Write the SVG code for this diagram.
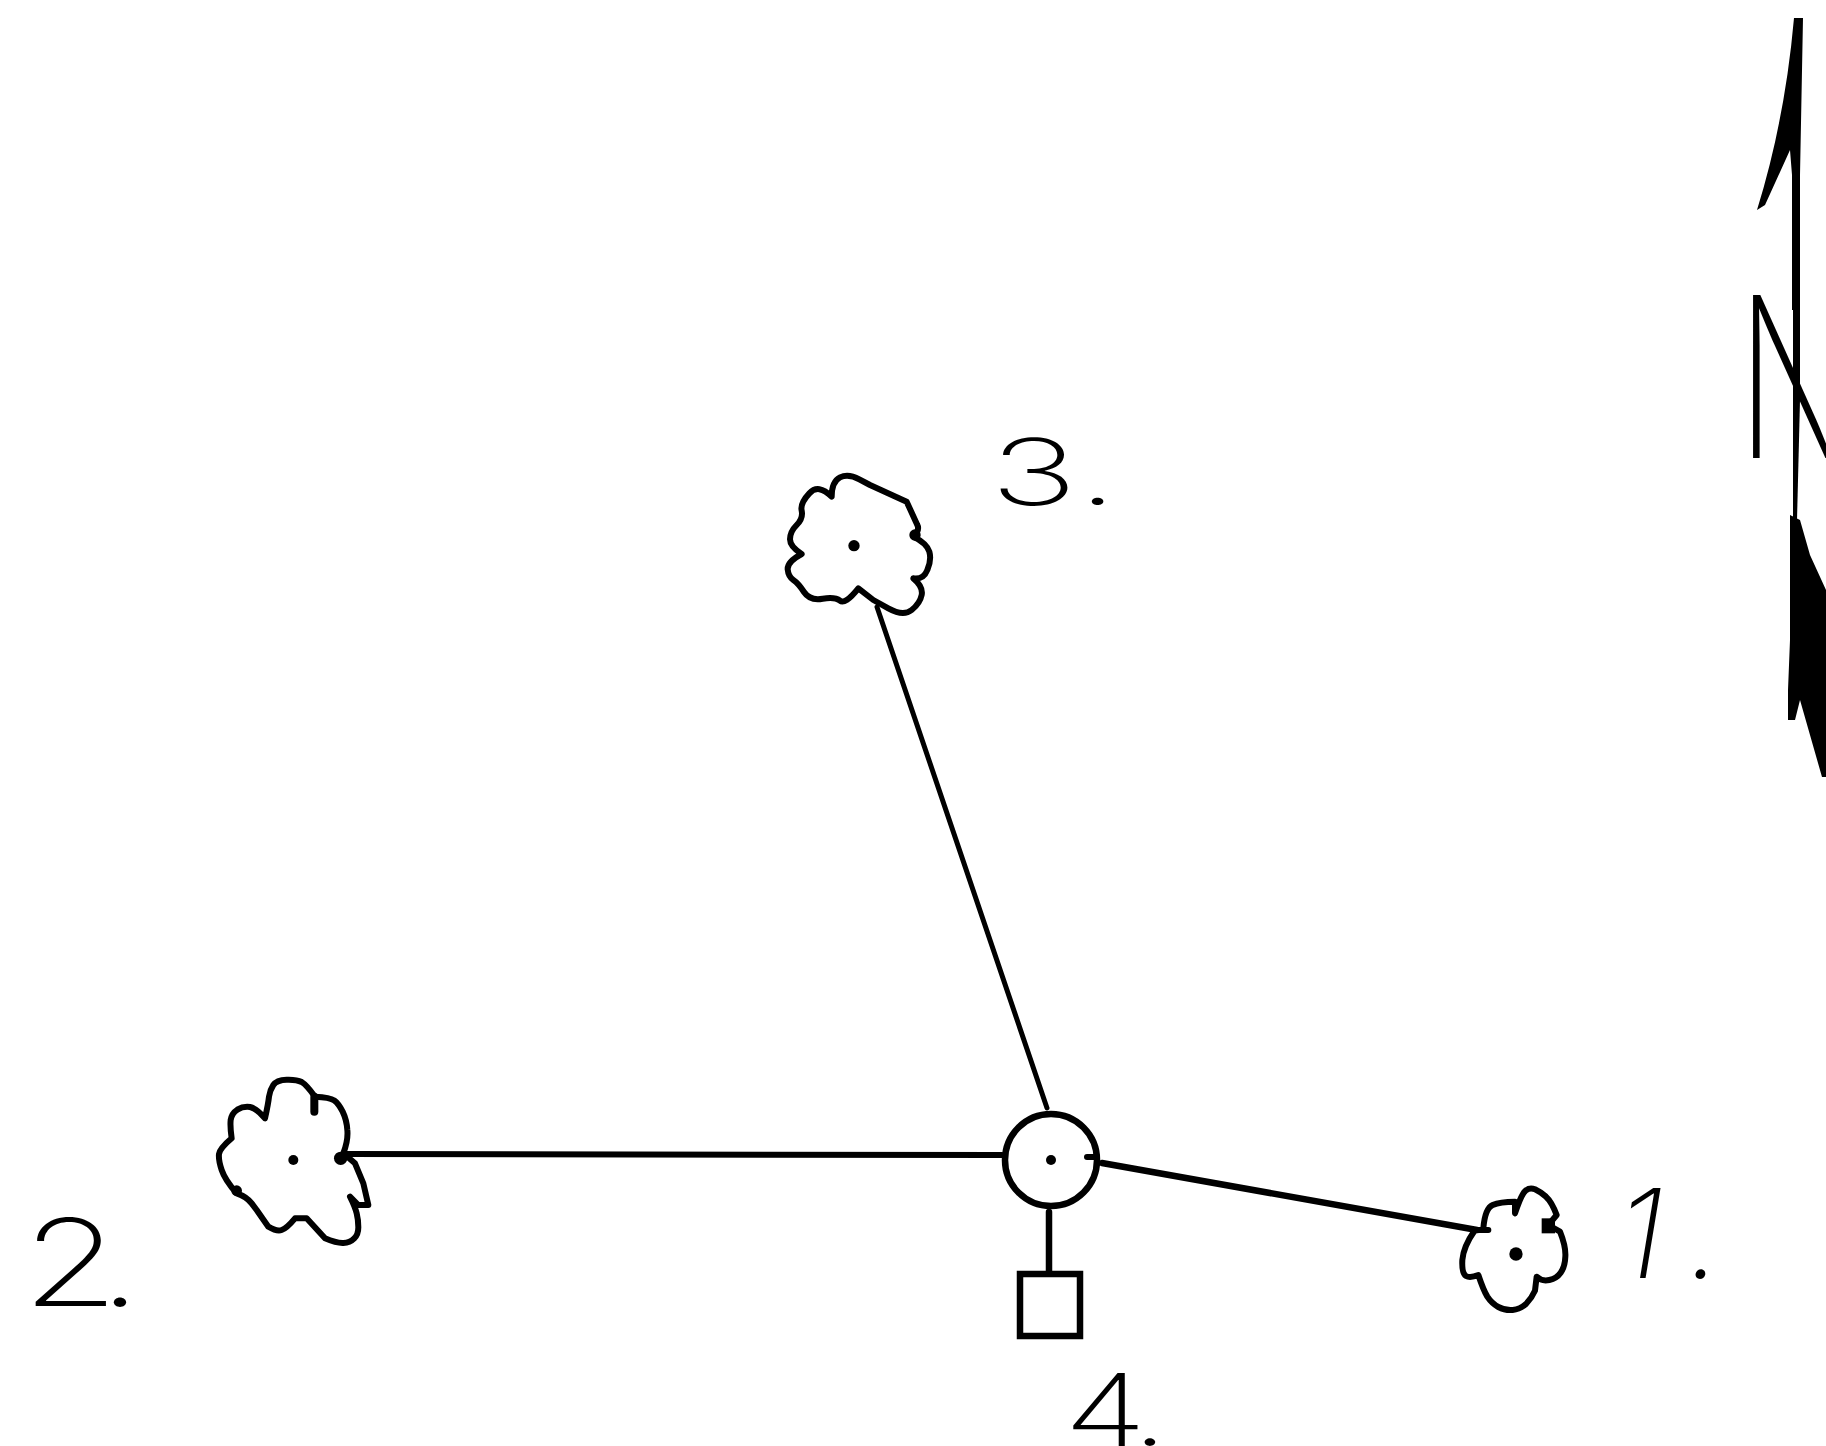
<svg xmlns="http://www.w3.org/2000/svg" width="1826" height="1446" viewBox="0 0 1826 1446">
<style>
.bg{fill:#fff}
.o{fill:none;stroke:#000;stroke-width:18;stroke-linejoin:round;stroke-linecap:round}
.o2{fill:none;stroke:#000;stroke-width:6.5}
.s{fill:#000}
.c{fill:none;stroke:#000;stroke-width:6;stroke-linecap:round}
.t{font-family:"Inter","Liberation Sans",sans-serif;font-weight:200;fill:#000}
</style>
<rect class="bg" width="1826" height="1446"/>
<g id="connectors">
<path class="c" style="stroke-width:5" d="M877 607L1047 1108"/>
<path class="c" d="M347 1154L1002 1155"/>
<path class="c" style="stroke-width:6.5" d="M1102 1163L1477 1230"/>
<path class="c" style="stroke-width:6.5" d="M1049 1212V1272"/>
</g>
<g id="node-3" transform="translate(760 440) scale(.33333)">
<path class="o" d="M340 480L295 445Q255 495 240 482Q225 470 188 476Q150 483 132 456Q115 430 100 420Q85 410 83 388Q82 365 125 342Q90 320 90 298Q90 275 110 255Q130 235 125 212Q120 190 148 160Q175 130 215 170Q215 125 240 112Q265 100 298 118L330 135L440 185Q465 240 472 255Q480 270 460 290Q500 310 508 335Q515 360 502 390Q490 420 460 415Q490 440 485 465Q480 490 455 510Q430 530 385 505Z"/>
<circle class="s" cx="282" cy="317" r="17"/>
<circle class="s" cx="465" cy="285" r="17"/>
</g>
<text id="label-3" class="t" transform="translate(990 505) scale(1.6 1)" font-size="92" letter-spacing="2">3.</text>
<g id="node-2" transform="translate(0 1050) scale(.33333)">
<path class="o" d="M1030 310Q1045 270 1042 240Q1040 210 1028 185Q1015 160 1002 151Q990 142 945 140Q920 105 905 96Q890 88 860 89Q830 90 820 105Q810 120 807 140Q805 160 795 205Q770 175 750 171Q730 168 712 179Q695 190 692 210Q690 230 695 265Q660 295 657 312Q655 330 665 360Q675 390 710 430Q740 440 755 460L770 480L805 530Q830 545 845 540Q860 535 885 505L920 505L975 565Q1010 580 1030 579Q1050 578 1062 566Q1075 555 1075 532Q1075 510 1070 490Q1065 470 1050 440L1075 465L1105 465L1090 400L1065 340Z"/>
<circle class="s" cx="1022" cy="325" r="20"/>
<path class="o" style="stroke-width:24" d="M943 140V185"/>
<circle class="s" cx="880" cy="330" r="15"/>
<circle class="s" cx="710" cy="422" r="16"/>
</g>
<text id="label-2" class="t" transform="translate(22 1306) scale(1.3 1)" font-size="121" letter-spacing="-16">2.</text>
<g id="node-hub">
<circle class="o2" cx="1051" cy="1160" r="46"/>
<circle class="s" cx="1051" cy="1160" r="5"/>
<path class="c" d="M1087 1157H1096"/>
</g>
<g id="node-4">
<rect class="o2" x="1020" y="1274" width="60" height="62"/>
</g>
<text id="label-4" class="t" transform="translate(1064 1446) scale(1.35 1)" font-size="100" letter-spacing="-8">4.</text>
<g id="node-1" transform="translate(1420 1150) scale(.33333)">
<path class="o" d="M205 240L165 240Q130 290 127 330Q125 370 138 378Q150 385 175 375Q190 420 202 440Q215 460 235 471Q255 482 278 480Q300 478 318 462Q335 445 345 422L350 380Q365 395 388 390Q410 385 422 368Q435 350 436 320Q438 290 420 245L385 225L410 195Q395 155 378 140Q360 125 345 118Q330 112 318 121Q305 130 285 190L285 155Q240 155 218 165Q195 175 190 235"/>
<circle class="s" cx="288" cy="312" r="20"/>
<rect class="s" x="365" y="205" width="40" height="45"/>
</g>
<text id="label-1" class="t" x="1617" y="1278" font-size="124" font-style="italic" letter-spacing="24">1.</text>
<g id="north-arrow">
<path class="s" d="M1794 18H1803L1800 175V310H1792V175L1790 150L1765 205L1757 210Q1785 120 1794 18Z"/>
<path class="s" d="M1793 305H1800V400L1797 520H1793Z"/>
<path class="s" d="M1790 515L1800 520L1810 555L1826 590V777H1822L1800 700L1795 720H1788V690L1790 640Z"/>
<text class="t" transform="translate(1738 458) scale(.64 1)" font-size="224">N</text>
</g>
</svg>
